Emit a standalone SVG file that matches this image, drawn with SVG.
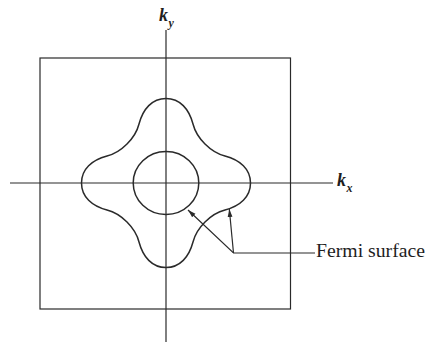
<svg xmlns="http://www.w3.org/2000/svg" width="428" height="344" viewBox="0 0 428 344">
<style>
.ln{fill:none;stroke:#2a2a2a;stroke-width:1.2}
.cv{fill:none;stroke:#2a2a2a;stroke-width:1.5}
.lbl{font-family:"Liberation Serif","Times New Roman",serif;fill:#1e1e1e}
.k{font-style:italic;font-weight:bold}
</style>
<defs>
<marker id="ah" viewBox="0 0 8 6" refX="8" refY="3" markerWidth="8" markerHeight="6" markerUnits="userSpaceOnUse" orient="auto">
<path d="M0,0.6 L8,3 L0,5.4 Z" fill="#2a2a2a"/>
</marker>
</defs>
<rect width="428" height="344" fill="#ffffff"/>
<g id="zone">
<rect class="ln" x="40" y="58" width="250.5" height="251"/>
</g>
<g id="axes">
<line class="ln" x1="166" y1="30" x2="166" y2="342"/>
<line class="ln" x1="10" y1="183" x2="333" y2="183"/>
<text class="lbl k" x="159" y="21" font-size="18">k<tspan font-size="12" dx="0.5" dy="6">y</tspan></text>
<text class="lbl k" x="337" y="186" font-size="18">k<tspan font-size="12" dx="0.5" dy="6">x</tspan></text>
</g>
<g id="outer-surface" transform="translate(166,183)">
<path class="cv" d="M0,-84.5 C-14,-84.5 -23,-74 -27,-59 C-28.5,-53 -33,-45 -39,-39 C-45,-33 -53,-28.5 -59,-27 C-74,-23 -84.5,-14 -84.5,0 C-84.5,14 -74,23 -59,27 C-53,28.5 -45,33 -39,39 C-33,45 -28.5,53 -27,59 C-23,74 -14,84.5 0,84.5 C14,84.5 23,74 27,59 C28.5,53 33,45 39,39 C45,33 53,28.5 59,27 C74,23 84.5,14 84.5,0 C84.5,-14 74,-23 59,-27 C53,-28.5 45,-33 39,-39 C33,-45 28.5,-53 27,-59 C23,-74 14,-84.5 0,-84.5 Z"/>
</g>
<g id="inner-surface">
<ellipse class="cv" cx="166" cy="183" rx="32.8" ry="31.5"/>
</g>
<g id="label-fermi">
<text class="lbl" x="316" y="257" font-size="18" textLength="109" lengthAdjust="spacingAndGlyphs">Fermi surface</text>
</g>
<g id="connectors">
<polyline class="ln" points="315,253 233.5,253 188,210" marker-end="url(#ah)"/>
<line class="ln" x1="233.5" y1="253" x2="229.3" y2="209" marker-end="url(#ah)"/>
</g>
</svg>
